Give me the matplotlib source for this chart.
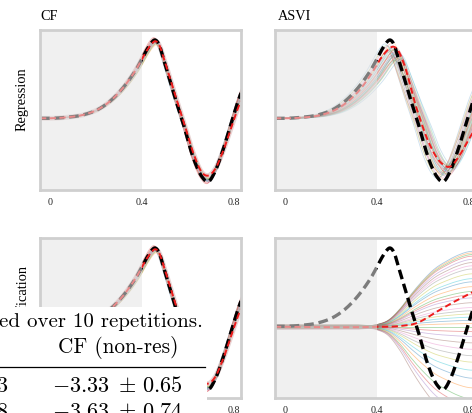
import numpy as np
import matplotlib
matplotlib.use("Agg")
import matplotlib.pyplot as plt
from matplotlib.patches import Rectangle
from matplotlib.lines import Line2D

plt.rcParams['mathtext.fontset'] = 'cm'
plt.rcParams['lines.scale_dashes'] = False

# ---------------- data ----------------
# ground-truth curve (fraction of panel height)
x_true = [-0.05, 0.0, 0.07, 0.145, 0.217, 0.275, 0.333, 0.377, 0.42, 0.44, 0.457,
          0.475, 0.493, 0.536, 0.58, 0.623, 0.66, 0.688, 0.717, 0.754, 0.79, 0.819, 0.85]
y_true = [0.448, 0.448, 0.454, 0.47, 0.51, 0.573, 0.667, 0.76, 0.875, 0.92, 0.9375,
          0.905, 0.82, 0.61, 0.41, 0.20, 0.083, 0.052, 0.115, 0.26, 0.43, 0.5625, 0.68]

# predictive means (red dashed)
x_mean_cf = x_true
y_mean_cf = [0.448, 0.448, 0.454, 0.47, 0.51, 0.573, 0.667, 0.76, 0.87, 0.91, 0.93,
             0.905, 0.83, 0.63, 0.43, 0.23, 0.11, 0.09, 0.13, 0.25, 0.40, 0.52, 0.62]
x_mean_asvi_reg = [-0.05, 0.0, 0.07, 0.145, 0.217, 0.275, 0.333, 0.377, 0.42, 0.45, 0.471,
                   0.49, 0.514, 0.572, 0.63, 0.68, 0.717, 0.76, 0.80, 0.85]
y_mean_asvi_reg = [0.448, 0.448, 0.452, 0.465, 0.50, 0.555, 0.64, 0.73, 0.83, 0.88, 0.896,
                   0.875, 0.80, 0.51, 0.28, 0.167, 0.146, 0.22, 0.32, 0.44]
x_mean_asvi_cls = [-0.05, 0.4, 0.5, 0.57, 0.66, 0.72, 0.8, 0.85]
y_mean_asvi_cls = [0.445, 0.445, 0.45, 0.467, 0.54, 0.59, 0.65, 0.69]

# posterior samples: phase shift and amplitude of each sample
shift_cf = [-0.006, -0.004, -0.003, -0.002, -0.001, 0.0, 0.001, 0.002, 0.003, 0.004,
            0.005, 0.007, 0.008, -0.005, 0.006]
amp_cf = [0.98, 1.0, 0.97, 1.02, 0.99, 0.96, 1.01, 0.98, 0.95, 1.0, 0.97, 0.94, 0.96, 1.03, 0.99]

shift_asvi = [-0.022, -0.018, -0.015, -0.012, -0.009, -0.006, -0.003, 0.0, 0.002, 0.004,
              0.006, 0.008, 0.01, 0.012, 0.014, 0.016, 0.018, 0.02, 0.022, 0.024,
              0.026, 0.028, 0.03, 0.032, 0.034, 0.036, 0.038, 0.04, 0.043, 0.046,
              0.05, 0.011, 0.019, 0.027, 0.007, 0.035]
amp_asvi = [0.95, 0.9, 0.93, 0.85, 0.92, 0.88, 0.94, 0.86, 0.9, 0.83, 0.89, 0.8, 0.87,
            0.84, 0.91, 0.78, 0.86, 0.82, 0.88, 0.8, 0.85, 0.77, 0.83, 0.79, 0.86, 0.76,
            0.82, 0.8, 0.78, 0.81, 0.76, 0.97, 0.74, 0.9, 0.8, 0.84]

# classification ASVI: end deviation of each sample and common growth profile
dev_cls = [0.47, 0.46, 0.45, 0.44, 0.42, 0.4, 0.38, 0.36, 0.33, 0.3, 0.28, 0.25, 0.22,
           0.2, 0.18, 0.15, 0.12, 0.1, 0.08, 0.06, 0.04, 0.02, 0.0, -0.03, -0.06, -0.1,
           -0.14, -0.18, -0.22, -0.27, -0.32, -0.38, -0.45, -0.5, -0.55, -0.62]
x_prof = [-0.05, 0.3, 0.4, 0.45, 0.5, 0.55, 0.6, 0.65, 0.7, 0.75, 0.8, 0.85]
y_prof = [0.025, 0.025, 0.03, 0.09, 0.24, 0.44, 0.62, 0.77, 0.87, 0.95, 1.0, 1.0]
base_cls = 0.445

titles = ["CF", "ASVI"]
row_labels = ["Regression", "Classification"]
xticks = [0, 0.4, 0.8]
xtick_labels = ["0", "0.4", "0.8"]
shade_end = 0.4

# ---------------- helpers ----------------
def smooth(xp, yp, xs):
    xp = np.asarray(xp, float); yp = np.asarray(yp, float)
    m = np.gradient(yp, xp)
    i = np.clip(np.searchsorted(xp, xs) - 1, 0, len(xp) - 2)
    h = xp[i + 1] - xp[i]
    t = np.clip((xs - xp[i]) / h, 0, 1)
    h00 = 2 * t**3 - 3 * t**2 + 1
    h10 = t**3 - 2 * t**2 + t
    h01 = -2 * t**3 + 3 * t**2
    h11 = t**3 - t**2
    return h00 * yp[i] + h10 * h * m[i] + h01 * yp[i + 1] + h11 * h * m[i + 1]

W, H = 472, 413
XMIN, XMAX = -0.0435, 0.83
xs = np.linspace(XMIN, XMAX, 500)
colors = plt.rcParams['axes.prop_cycle'].by_key()['color']
serif = ['Liberation Serif', 'DejaVu Serif']

fig = plt.figure(figsize=(W / 100, H / 100), dpi=100)

def make_ax(px_left, px_top):
    return fig.add_axes([px_left / W, 1 - (px_top + 160) / H, 201 / W, 160 / H])

axes = [[make_ax(40, 30), make_ax(275, 30)], [make_ax(40, 238), make_ax(275, 238)]]

base = y_true[0]
truth = smooth(x_true, y_true, xs)

def osc_sample(shift, amp):
    return base + amp * (smooth(x_true, y_true, xs - shift) - base)

for r in range(2):
    for c in range(2):
        ax = axes[r][c]
        ax.set_xlim(XMIN, XMAX)
        ax.set_ylim(0, 1)
        # samples
        if c == 0:
            for k, (s, a) in enumerate(zip(shift_cf, amp_cf)):
                ax.plot(xs, osc_sample(s, a), color=colors[k % 10], lw=0.6, alpha=0.35, zorder=1)
            ax.plot(xs, smooth(x_mean_cf, y_mean_cf, xs), color='#d9b8b8', lw=3.5, alpha=0.6, zorder=1)
        elif r == 0:
            for k, (s, a) in enumerate(zip(shift_asvi, amp_asvi)):
                ax.plot(xs, osc_sample(s, a), color=colors[k % 10], lw=0.6, alpha=0.22, zorder=1)
        else:
            prof = smooth(x_prof, y_prof, xs)
            for k, d in enumerate(dev_cls):
                ax.plot(xs, base_cls + d * prof, color=colors[k % 10], lw=0.6, alpha=0.4, zorder=1)
        # truth
        ax.plot(xs, truth, color='black', lw=2.4, dashes=(7, 3.5), zorder=3)
        # mean
        if c == 0:
            mean = smooth(x_mean_cf, y_mean_cf, xs)
        elif r == 0:
            mean = smooth(x_mean_asvi_reg, y_mean_asvi_reg, xs)
        else:
            mean = smooth(x_mean_asvi_cls, y_mean_asvi_cls, xs)
        ax.plot(xs, mean, color='#ee1c1c', lw=1.4, dashes=(4.5, 2.5), zorder=4)
        # shaded observed region (overlay)
        ax.axvspan(XMIN, shade_end, color='#e4e4e4', alpha=0.55, lw=0, zorder=5)
        for sp in ax.spines.values():
            sp.set_color('#cfcfcf')
            sp.set_linewidth(2.0)
            sp.set_zorder(6)
        ax.set_yticks([])
        ax.set_xticks(xticks)
        ax.set_xticklabels(xtick_labels, fontfamily=serif, fontsize=7.2)
        ax.tick_params(axis='x', length=0, pad=5.5, colors='#222222')

# titles
fig.text(40 / W, 1 - 20 / H, titles[0], fontfamily=serif, fontsize=10.3, va='baseline', ha='left')
fig.text(278 / W, 1 - 20 / H, titles[1], fontfamily=serif, fontsize=10.3, va='baseline', ha='left')
# row labels
fig.text(22.5 / W, 1 - 67 / H, row_labels[0], rotation=90, fontfamily=serif, fontsize=10.4,
         va='top', ha='center')
fig.text(22.5 / W, 1 - 265 / H, row_labels[1], rotation=90, fontfamily=serif, fontsize=10.4,
         va='top', ha='center')

# overlapping table fragment
fig.add_artist(Rectangle((0, 0), 207 / W, (H - 307) / H, transform=fig.transFigure,
                         facecolor='white', edgecolor='none', zorder=20))
tkw = dict(transform=fig.transFigure, zorder=21, va='baseline', ha='right')
fig.text(203 / W, 1 - 327 / H, 'ed over 10 repetitions.', fontfamily='cmr10', fontsize=15, **tkw)
fig.text(178 / W, 1 - 353 / H, 'CF (non-res)', fontfamily='cmr10', fontsize=15.3, **tkw)
fig.add_artist(Line2D([0, 205 / W], [1 - 367 / H] * 2, transform=fig.transFigure,
                      color='black', lw=0.9, zorder=21))
fig.text(183 / W, 1 - 392 / H, r'$-3.33\;\pm\,0.65$', fontsize=16, **tkw)
fig.text(8 / W, 1 - 392 / H, r'$3$', fontsize=16, **tkw)
fig.text(183 / W, 1 - 418 / H, r'$-3.63\;\pm\,0.74$', fontsize=16, **tkw)
fig.text(8 / W, 1 - 418 / H, r'$8$', fontsize=16, **tkw)

fig.savefig('out.png', dpi=100)
